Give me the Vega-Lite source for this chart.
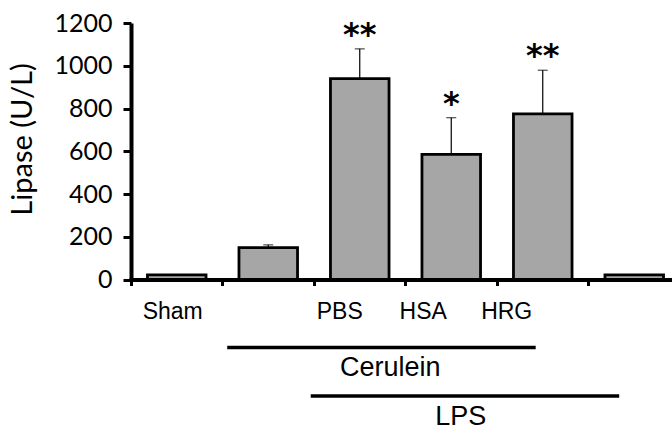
{
  "$schema": "https://vega.github.io/schema/vega-lite/v6.json",
  "width": 541,
  "height": 256.5,
  "autosize": {"type": "none"},
  "padding": {"left": 131, "top": 23, "right": 0, "bottom": 150.5},
  "background": "white",
  "config": {
    "view": {"stroke": null},
    "axis": {"domainColor": "black", "tickColor": "black", "labelColor": "black", "titleColor": "black", "grid": false}
  },
  "datasets": {
    "groups": [
      {"group": "Sham", "label": "Sham", "lipase": 22, "upper": null, "stars": ""},
      {"group": "Cerulein", "label": "", "lipase": 149, "upper": 162, "stars": ""},
      {"group": "Cerulein+LPS+PBS", "label": "PBS", "lipase": 940, "upper": 1079, "stars": "**"},
      {"group": "Cerulein+LPS+HSA", "label": "HSA", "lipase": 585, "upper": 757, "stars": "*"},
      {"group": "Cerulein+LPS+HRG", "label": "HRG", "lipase": 775, "upper": 979, "stars": "**"},
      {"group": "LPS", "label": "", "lipase": 22, "upper": null, "stars": ""}
    ],
    "treatments": [
      {"treatment": "Cerulein", "first": "Cerulein", "last": "Cerulein+LPS+HRG"},
      {"treatment": "LPS", "first": "Cerulein+LPS+PBS", "last": "LPS"}
    ]
  },
  "layer": [
    {
      "data": {"name": "groups"},
      "encoding": {
        "x": {
          "field": "group", "type": "nominal",
          "scale": {"domain": ["Sham", "Cerulein", "Cerulein+LPS+PBS", "Cerulein+LPS+HSA", "Cerulein+LPS+HRG", "LPS"], "range": [0, 549], "paddingInner": 0, "paddingOuter": 0},
          "axis": {"title": null, "labels": false, "bandPosition": 0, "tickSize": 6, "tickWidth": 3, "domainWidth": 4, "domainCap": "square"}
        }
      },
      "layer": [
        {
          "mark": {"type": "bar", "fill": "#a6a6a6", "stroke": "black", "strokeWidth": 2.8, "width": {"band": 0.64}},
          "encoding": {
            "y": {
              "field": "lipase", "type": "quantitative",
              "scale": {"domain": [0, 1200], "nice": false},
              "axis": {
                "title": "Lipase (U/L)", "values": [0, 200, 400, 600, 800, 1000, 1200], "format": "d",
                "tickSize": 8, "tickWidth": 3, "domainWidth": 4, "labelPadding": 11,
                "labelFont": "Lato", "labelFontSize": 25,
                "titleFont": "Lato", "titleFontSize": 29, "titleFontWeight": "normal",
                "titleX": -109, "titleY": 116, "titleBaseline": "middle", "titleAngle": -90
              }
            }
          }
        },
        {
          "transform": [{"filter": "isValid(datum.upper)"}],
          "mark": {"type": "rule", "color": "black", "strokeWidth": 1.2},
          "encoding": {
            "y": {"field": "lipase", "type": "quantitative"},
            "y2": {"field": "upper"}
          }
        },
        {
          "transform": [{"filter": "isValid(datum.upper)"}],
          "mark": {"type": "tick", "color": "black", "size": 10, "thickness": 1.2},
          "encoding": {
            "y": {"field": "upper", "type": "quantitative"}
          }
        },
        {
          "transform": [{"filter": "isValid(datum.upper)"}],
          "mark": {"type": "text", "font": "DejaVu Sans", "fontWeight": "bold", "fontSize": 32, "baseline": "alphabetic", "dy": -4, "color": "black"},
          "encoding": {
            "y": {"field": "upper", "type": "quantitative"},
            "text": {"field": "stars"}
          }
        }
      ]
    },
    {
      "layer": [
        {
          "data": {"name": "groups"},
          "mark": {"type": "text", "font": "Liberation Sans", "fontSize": 23, "baseline": "middle", "dy": 32, "color": "black"},
          "encoding": {
            "x": {"field": "group", "type": "nominal", "scale": {"domain": ["Sham", "Cerulein", "Cerulein+LPS+PBS", "Cerulein+LPS+HSA", "Cerulein+LPS+HRG", "LPS"], "paddingInner": 0, "paddingOuter": 0.24, "align": 0}, "axis": null},
            "y": {"datum": 0, "type": "quantitative"},
            "text": {"field": "label"}
          }
        },
        {
          "data": {"name": "treatments"},
          "transform": [{"filter": "datum.treatment == 'Cerulein'"}],
          "layer": [
            {
              "mark": {"type": "rule", "color": "black", "strokeWidth": 3.5, "yOffset": 68, "xOffset": -29, "x2Offset": 29},
              "encoding": {
                "x": {"field": "first", "type": "nominal", "axis": null, "scale": {"domain": ["Sham", "Cerulein", "Cerulein+LPS+PBS", "Cerulein+LPS+HSA", "Cerulein+LPS+HRG", "LPS"], "paddingInner": 0, "paddingOuter": 0.24, "align": 0}},
                "x2": {"field": "last"},
                "y": {"datum": 0, "type": "quantitative"}
              }
            },
            {
              "mark": {"type": "text", "font": "Liberation Sans", "fontSize": 27, "baseline": "middle", "dy": 88, "dx": 134, "color": "black"},
              "encoding": {
                "x": {"field": "first", "type": "nominal", "axis": null, "scale": {"domain": ["Sham", "Cerulein", "Cerulein+LPS+PBS", "Cerulein+LPS+HSA", "Cerulein+LPS+HRG", "LPS"], "paddingInner": 0, "paddingOuter": 0.24, "align": 0}},
                "y": {"datum": 0, "type": "quantitative"},
                "text": {"field": "treatment"}
              }
            }
          ]
        },
        {
          "data": {"name": "treatments"},
          "transform": [{"filter": "datum.treatment == 'LPS'"}],
          "layer": [
            {
              "mark": {"type": "rule", "color": "black", "strokeWidth": 3.5, "yOffset": 116.5, "xOffset": -29, "x2Offset": 29},
              "encoding": {
                "x": {"field": "first", "type": "nominal", "axis": null, "scale": {"domain": ["Sham", "Cerulein", "Cerulein+LPS+PBS", "Cerulein+LPS+HSA", "Cerulein+LPS+HRG", "LPS"], "paddingInner": 0, "paddingOuter": 0.24, "align": 0}},
                "x2": {"field": "last"},
                "y": {"datum": 0, "type": "quantitative"}
              }
            },
            {
              "mark": {"type": "text", "font": "Liberation Sans", "fontSize": 27, "baseline": "middle", "dy": 137, "dx": 121, "color": "black"},
              "encoding": {
                "x": {"field": "first", "type": "nominal", "axis": null, "scale": {"domain": ["Sham", "Cerulein", "Cerulein+LPS+PBS", "Cerulein+LPS+HSA", "Cerulein+LPS+HRG", "LPS"], "paddingInner": 0, "paddingOuter": 0.24, "align": 0}},
                "y": {"datum": 0, "type": "quantitative"},
                "text": {"field": "treatment"}
              }
            }
          ]
        }
      ]
    }
  ],
  "resolve": {"scale": {"x": "independent"}, "axis": {"x": "independent"}}
}
